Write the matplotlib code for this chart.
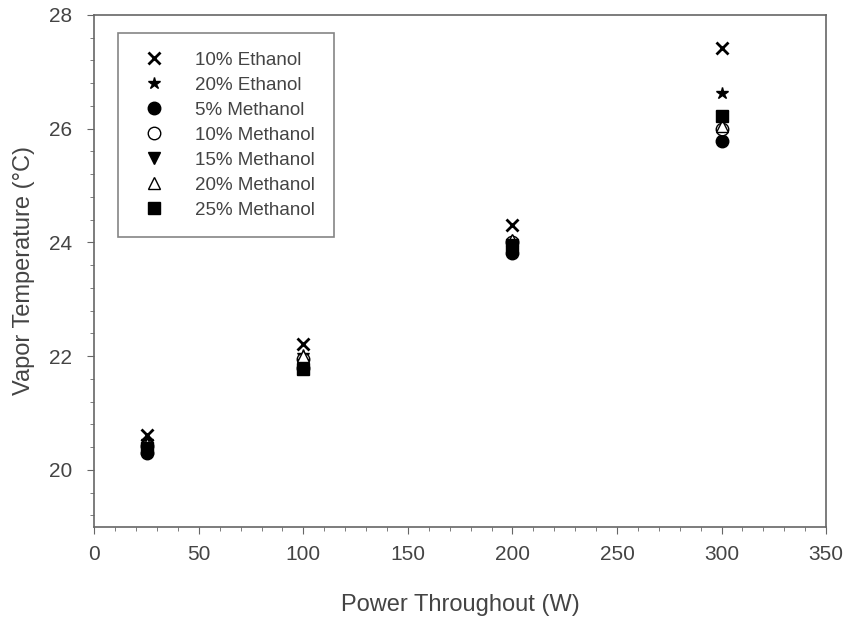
import matplotlib.pyplot as plt
from matplotlib.ticker import MultipleLocator

plt.rcParams['font.family'] = ['Liberation Sans', 'DejaVu Sans']

power = [25, 100, 200, 300]
labels = ["10% Ethanol", "20% Ethanol", "5% Methanol", "10% Methanol",
          "15% Methanol", "20% Methanol", "25% Methanol"]
eth10 = [20.62, 22.22, 24.30, 27.42]
eth20 = [20.50, 22.02, 24.02, 26.62]
meth5 = [20.30, 21.80, 23.82, 25.78]
meth10 = [20.42, 21.95, 24.00, 26.00]
meth15 = [20.35, 21.85, 23.90, 26.20]
meth20 = [20.45, 22.00, 24.05, 26.05]
meth25 = [20.38, 21.78, 23.95, 26.22]

series = [eth10, eth20, meth5, meth10, meth15, meth20, meth25]
markers = ["x", "*", "o", "o", "v", "^", "s"]
faces = ["k", "k", "k", "white", "k", "white", "k"]
sizes = [8, 9, 9, 9, 9, 9, 8]

fig = plt.figure(figsize=(8.49, 6.19), dpi=100)
ax = fig.add_axes([0.111, 0.149, 0.862, 0.827])

for vals, lab, m, fc, ms in zip(series, labels, markers, faces, sizes):
    ax.plot(power, vals, ls="none", marker=m, ms=ms, mfc=fc, mec="k",
            mew=2 if m == "x" else 1, label=lab)

ax.set_xlim(0, 350)
ax.set_ylim(19, 28)
ax.set_yticks([20, 22, 24, 26, 28])
ax.xaxis.set_minor_locator(MultipleLocator(10))
ax.yaxis.set_minor_locator(MultipleLocator(0.4))
for s in ax.spines.values():
    s.set_color("#666666")
    s.set_linewidth(1.2)
ax.tick_params(which="both", colors="#666666", labelcolor="#444444", labelsize=15)
ax.tick_params(which="major", length=5)
ax.tick_params(which="minor", length=3)
ax.tick_params(axis="x", which="major", pad=8)
ax.tick_params(axis="y", which="major", pad=11)

ax.set_xlabel("Power Throughout (W)", fontsize=17, color="#444444", labelpad=22)
ax.set_ylabel("Vapor Temperature (°C)", fontsize=17, color="#444444", labelpad=10)

leg = ax.legend(loc="upper left", bbox_to_anchor=(0.033, 0.965), borderaxespad=0,
                fontsize=13.5, frameon=True, fancybox=False, handletextpad=1.3,
                labelspacing=0.42, borderpad=1.0, handlelength=1.8)
leg.get_frame().set_edgecolor("#666666")
leg.get_frame().set_linewidth(1.2)
for t in leg.get_texts():
    t.set_color("#444444")

fig.savefig("out.png", dpi=100)
